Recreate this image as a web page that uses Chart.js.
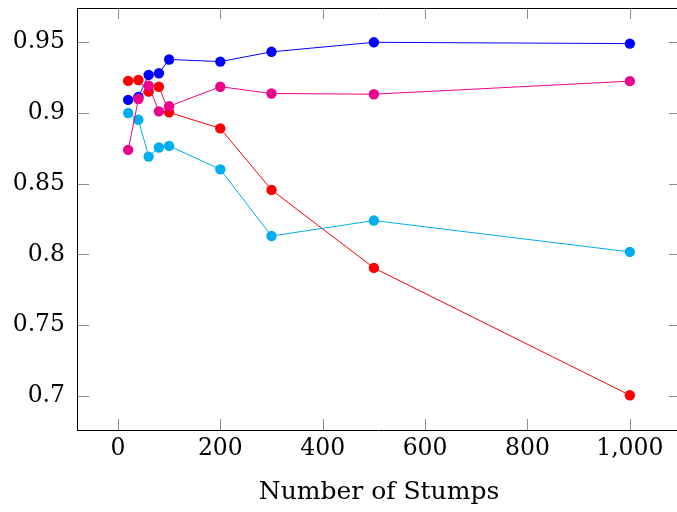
<!DOCTYPE html>
<html>
<head>
<meta charset="utf-8">
<script src="https://cdn.jsdelivr.net/npm/chart.js@4.4.1/dist/chart.umd.min.js"></script>
<style>
  html, body { margin: 0; background: #fff; overflow: hidden; }
  canvas { display: block; }
</style>
</head>
<body>
<!-- a little wider than the window: the right frame of the plot sits just off the picture -->
<canvas id="chart" width="680" height="512"></canvas>
<script>
  const stumps = [20, 40, 60, 80, 100, 200, 300, 500, 1000];
  const blueValues = [0.909, 0.911, 0.9266, 0.9278, 0.9375, 0.936, 0.9429, 0.9496, 0.9487];
  const redValues = [0.9224, 0.923, 0.9148, 0.9183, 0.9002, 0.8889, 0.8455, 0.7905, 0.7007];
  const cyanValues = [0.8997, 0.895, 0.869, 0.8754, 0.8766, 0.86, 0.813, 0.8239, 0.8018];
  const pinkValues = [0.8737, 0.9096, 0.919, 0.9009, 0.9045, 0.9183, 0.9135, 0.913, 0.9222];
  const xTicks = [0, 200, 400, 600, 800, 1000];
  const yTicks = [0.7, 0.75, 0.8, 0.85, 0.9, 0.95];

  const FONT = "'DejaVu Serif', serif";

  function makeSeries(values, color) {
    return {
      data: stumps.map((x, i) => ({ x: x, y: values[i] })),
      borderColor: color,
      backgroundColor: color,
      borderWidth: 1,
      pointRadius: 5.2,
      pointBorderWidth: 0,
      pointBackgroundColor: color,
      tension: 0,
    };
  }

  // pgfplots style box: frame on four sides with inward tick marks
  const frameTicks = {
    id: "frameTicks",
    beforeDatasetsDraw(chart) {
      const { ctx, chartArea: a, scales } = chart;
      const len = 11;
      ctx.save();
      ctx.lineWidth = 1;
      ctx.strokeStyle = "#8c8c8c";
      ctx.beginPath();
      xTicks.forEach((v) => {
        const px = Math.round(scales.x.getPixelForValue(v)) + 0.5;
        ctx.moveTo(px, a.bottom);
        ctx.lineTo(px, a.bottom - len);
        ctx.moveTo(px, a.top);
        ctx.lineTo(px, a.top + len);
      });
      yTicks.forEach((v) => {
        const py = Math.round(scales.y.getPixelForValue(v)) + 0.5;
        ctx.moveTo(a.left, py);
        ctx.lineTo(a.left + len, py);
        ctx.moveTo(a.right, py);
        ctx.lineTo(a.right - len, py);
      });
      ctx.stroke();

      ctx.strokeStyle = "#000";
      ctx.beginPath();
      ctx.moveTo(a.left - 0.5, a.top + 0.5);
      ctx.lineTo(a.right, a.top + 0.5);
      ctx.moveTo(a.left - 0.5, a.top);
      ctx.lineTo(a.left - 0.5, a.bottom + 1);
      ctx.moveTo(a.left - 1, a.bottom + 0.5);
      ctx.lineTo(a.right, a.bottom + 0.5);
      ctx.moveTo(a.right - 0.5, a.top);
      ctx.lineTo(a.right - 0.5, a.bottom + 1);
      ctx.stroke();
      ctx.restore();
    },
  };

  function noPadding(scale) {
    scale.paddingTop = 0;
    scale.paddingBottom = 0;
    scale.paddingLeft = 0;
    scale.paddingRight = 0;
  }

  new Chart(document.getElementById("chart").getContext("2d"), {
    type: "line",
    data: {
      // first dataset is painted last, so pink ends up on top
      datasets: [
        makeSeries(pinkValues, "rgb(236, 0, 140)"),
        makeSeries(cyanValues, "rgb(0, 173, 239)"),
        makeSeries(redValues, "rgb(255, 0, 0)"),
        makeSeries(blueValues, "rgb(0, 0, 255)"),
      ],
    },
    options: {
      responsive: false,
      animation: false,
      layout: { autoPadding: false, padding: { top: 8, right: 0, bottom: 0, left: 0 } },
      plugins: {
        legend: { display: false },
        tooltip: { enabled: false },
      },
      scales: {
        x: {
          type: "linear",
          min: -78,
          max: 1098,
          afterBuildTicks: (scale) => {
            scale.ticks = xTicks.map((v) => ({ value: v }));
          },
          afterFit: (scale) => {
            scale.height = 82;
            noPadding(scale);
          },
          grid: { display: false, drawTicks: false },
          border: { display: false },
          ticks: {
            padding: 5,
            color: "#000",
            font: { family: FONT, size: 23.5 },
            maxRotation: 0,
            callback: (v) => v.toLocaleString("en-US"),
          },
          title: {
            display: true,
            text: "Number of Stumps",
            color: "#000",
            font: { family: FONT, size: 25 },
            padding: { top: 0, bottom: 5 },
          },
        },
        y: {
          type: "linear",
          min: 0.6762,
          max: 0.9738,
          afterBuildTicks: (scale) => {
            scale.ticks = yTicks.map((v) => ({ value: v }));
          },
          afterFit: (scale) => {
            scale.width = 78;
            noPadding(scale);
          },
          grid: { display: false, drawTicks: false },
          border: { display: false },
          ticks: {
            padding: 13,
            color: "#000",
            font: { family: FONT, size: 23.5 },
            callback: (v) => String(Math.round(v * 100) / 100),
          },
        },
      },
    },
    plugins: [frameTicks],
  });
</script>
</body>
</html>
